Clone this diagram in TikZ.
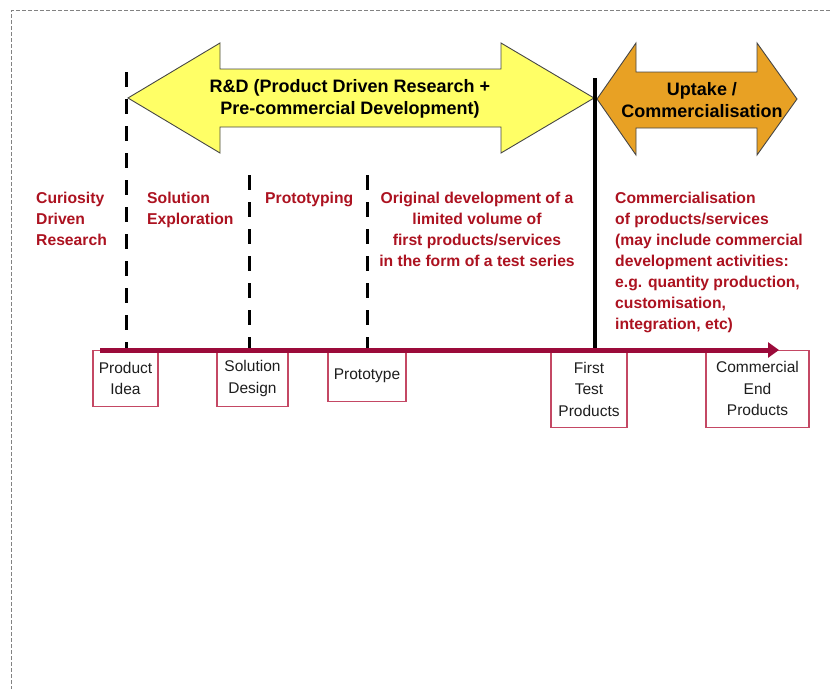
\documentclass[tikz,border=0pt]{standalone}
\usepackage{fontspec}
\setmainfont{Liberation Sans}
\usetikzlibrary{arrows.meta}
\definecolor{yelfill}{RGB}{255,255,102}
\definecolor{orafill}{RGB}{232,161,36}
\definecolor{shapeline}{RGB}{70,70,70}
\definecolor{redtext}{RGB}{172,18,32}
\definecolor{timeline}{RGB}{155,10,58}
\definecolor{boxline}{RGB}{196,72,100}
\definecolor{framegray}{RGB}{130,130,130}
\definecolor{boxtext}{RGB}{30,30,30}
\tikzset{
  bigarrow/.style={draw=shapeline, line width=0.9pt},
  titletext/.style={font=\fontsize{18}{21.5}\selectfont\bfseries, align=center, inner sep=0pt},
  phasetext/.style={font=\fontsize{15.7}{21}\selectfont\bfseries, text=redtext, inner sep=0pt},
  milestone/.style={draw=boxline, line width=1.1pt, fill=white, inner sep=0pt, anchor=north,
     font=\fontsize{15.5}{21.5}\selectfont, text=boxtext, align=center},
  phasedash/.style={line width=3pt, dash pattern=on 15pt off 12pt},
  phasesolid/.style={line width=4pt},
}
\begin{document}
\begin{tikzpicture}[x=1pt,y=-1pt]
\useasboundingbox (0,0) rectangle (832,688);
% frame
\draw[framegray, line width=1.1pt, dash pattern=on 4pt off 2pt] (11.5,690) -- (11.5,10.5) -- (834,10.5);

% R&D arrow
\draw[bigarrow, fill=yelfill] (128,98) -- (220,43) -- (220,69) -- (501,69) -- (501,43) -- (594,98)
   -- (501,153) -- (501,127) -- (220,127) -- (220,153) -- cycle;
\node[titletext] (rdtitle) at (350,99) {R\&D (Product Driven Research +\\Pre-commercial Development)};

% Uptake arrow
\draw[bigarrow, fill=orafill] (597,99) -- (636,43) -- (636,72) -- (757,72) -- (757,43) -- (797,99)
   -- (757,155) -- (757,128) -- (636,128) -- (636,155) -- cycle;
\node[titletext] (uptitle) at (702,100) {Uptake /\\Commercialisation};

% milestone boxes
\node[milestone, minimum width=65pt, minimum height=56pt] (idea) at (125.5,350) {Product\\Idea};
\node[milestone, minimum width=71pt, minimum height=56pt] (design) at (252.5,350) {Solution\\Design};
\node[milestone, minimum width=78pt, minimum height=51pt] (proto) at (367,350) {Prototype};
\node[milestone, minimum width=76pt, minimum height=77pt] (firsttest) at (589,350) {First\\Test\\Products};
\node[milestone, minimum width=103pt, minimum height=77pt] (endprod) at (757.5,349.5) {Commercial\\End\\Products};

% phase separators
\coordinate (d1top) at (126,72);   \coordinate (d1bot) at (126,350);
\coordinate (d2top) at (249,175);  \coordinate (d2bot) at (249,350);
\coordinate (d3top) at (367,175);  \coordinate (d3bot) at (367,350);
\coordinate (s1top) at (595,78);   \coordinate (s1bot) at (595,350);
\draw[phasedash] (d1top) -- (d1bot);
\draw[phasedash] (d2top) -- (d2bot);
\draw[phasedash] (d3top) -- (d3bot);
\draw[phasesolid] (s1top) -- (s1bot);

% timeline
\coordinate (tlstart) at (100,350);
\coordinate (tlend) at (779,350);
\draw[timeline, line width=5pt, -{Triangle[length=11pt,width=15pt]}] (tlstart) -- (tlend);

% phase texts
\node[phasetext, anchor=north west, align=left] (curio) at (36,191.5) {Curiosity\\Driven\\Research};
\node[phasetext, anchor=north west, align=left] (explore) at (147,191.5) {Solution\\Exploration};
\node[phasetext, anchor=north west, align=left] (protoing) at (265,191.5) {Prototyping};
\node[phasetext, anchor=north, align=center] (origdev) at (477,191.5) {Original development of a\\limited volume of\\first products/services\\in the form of a test series};
\node[phasetext, anchor=north west, align=left] (commer) at (615,191.5) {Commercialisation\\of products/services\\(may include commercial\\development activities:\\e.g. quantity production,\\customisation,\\integration, etc)};
\end{tikzpicture}
\end{document}
